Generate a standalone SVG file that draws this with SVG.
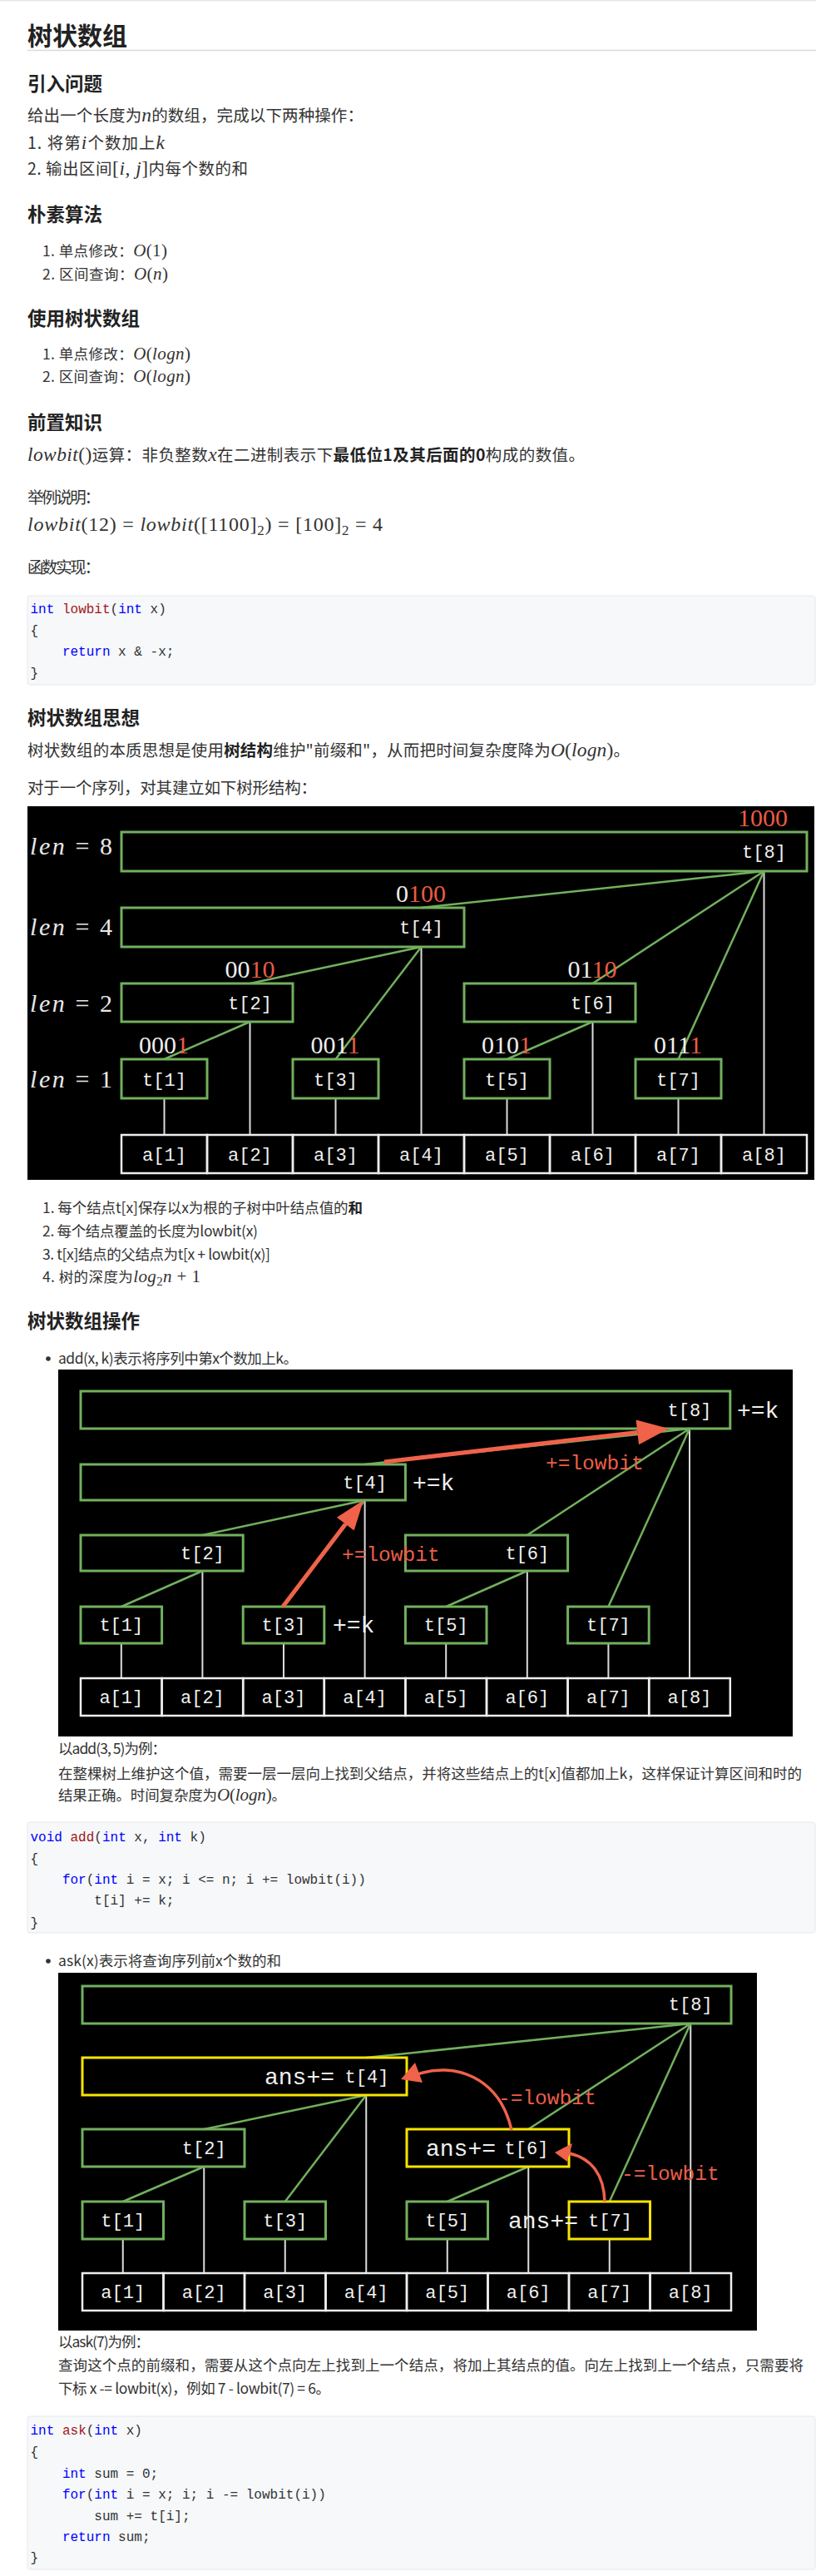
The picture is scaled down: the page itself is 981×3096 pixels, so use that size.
<svg xmlns="http://www.w3.org/2000/svg" width="981" height="3096" viewBox="0 0 981 3096">
<style>
text { font-family: "Noto Sans CJK SC", "Noto Sans", sans-serif; fill: #333; }
.h1 { font-size: 30px; font-weight: bold; fill: #222; }
.h3 { font-size: 22.5px; font-weight: bold; fill: #222; }
.p { font-size: 19.5px; }
.li { font-size: 17.5px; }
.m { font-family: "Liberation Serif", serif; font-style: italic; }
.mu { font-family: "Liberation Serif", serif; font-style: normal; }
.b { font-weight: bold; fill: #222; }
.code { font-family: "Liberation Mono", monospace; font-size: 16px; fill: #333; }
.kw { fill: #0000ff; }
.fn { fill: #a31515; }
.cb { fill: #f6f8fa; stroke: #e6e8eb; stroke-width: 1; }
.bg { fill: #000; }
.nb { fill: none; stroke: #72b05e; stroke-width: 3; }
.yb { fill: none; stroke: #f7e400; stroke-width: 3; }
.cell { fill: none; stroke: #eeeeee; stroke-width: 2.5; }
.gl { stroke: #72b05e; stroke-width: 2.5; fill: none; }
.wl { stroke: #dcdcdc; stroke-width: 2; }
.tt { font-family: "Liberation Mono", monospace; font-size: 22px; fill: #f0f0f0; text-anchor: middle; }
.tw { font-family: "Liberation Mono", monospace; font-size: 28px; fill: #f0f0f0; }
.red { fill: #ea5b43; }
.len { font-family: "Liberation Serif", serif; font-size: 30px; fill: #e8e8e8; }
.bin { font-family: "Liberation Serif", serif; font-size: 30px; fill: #eeeeee; text-anchor: middle; }
.rt { font-family: "Liberation Mono", monospace; font-size: 24.5px; fill: #ec5f48; }
.ra { stroke: #f0624a; stroke-width: 5; fill: none; }
.rc { stroke: #f0624a; stroke-width: 3.5; fill: none; }
.rh { fill: #f0624a; }
</style>

<rect x="0" y="0" width="981" height="1.5" fill="#e8e8e8"/>

<g id="text-top">
<text class="h1" x="33" y="54">树状数组</text>
<line x1="33" y1="60.5" x2="981" y2="60.5" stroke="#d9d9d9" stroke-width="1.5"/>
<text class="h3" x="33" y="108.5">引入问题</text>
<text class="p" x="33" y="146" textLength="404">给出一个长度为<tspan class="m" font-size="23.5">n</tspan>的数组，完成以下两种操作：</text>
<text class="p" x="33" y="179" textLength="165">1. 将第<tspan class="m" font-size="23.5">i</tspan>个数加上<tspan class="m" font-size="23.5">k</tspan></text>
<text class="p" x="33" y="210" textLength="265">2. 输出区间<tspan class="mu" font-size="23.5">[</tspan><tspan class="m" font-size="23.5">i</tspan><tspan class="mu" font-size="23.5">, </tspan><tspan class="m" font-size="23.5">j</tspan><tspan class="mu" font-size="23.5">]</tspan>内每个数的和</text>

<text class="h3" x="33" y="265.5">朴素算法</text>
<text class="li" x="51" y="308" textLength="150">1. 单点修改：<tspan class="m" font-size="21">O</tspan><tspan class="mu" font-size="21">(1)</tspan></text>
<text class="li" x="51" y="336" textLength="151">2. 区间查询：<tspan class="m" font-size="21">O</tspan><tspan class="mu" font-size="21">(</tspan><tspan class="m" font-size="21">n</tspan><tspan class="mu" font-size="21">)</tspan></text>

<text class="h3" x="33" y="390.5">使用树状数组</text>
<text class="li" x="51" y="432" textLength="178">1. 单点修改：<tspan class="m" font-size="21">O</tspan><tspan class="mu" font-size="21">(</tspan><tspan class="m" font-size="21">logn</tspan><tspan class="mu" font-size="21">)</tspan></text>
<text class="li" x="51" y="459" textLength="178">2. 区间查询：<tspan class="m" font-size="21">O</tspan><tspan class="mu" font-size="21">(</tspan><tspan class="m" font-size="21">logn</tspan><tspan class="mu" font-size="21">)</tspan></text>

<text class="h3" x="33" y="515.5">前置知识</text>
<text class="p" x="33" y="554" textLength="670"><tspan class="m" font-size="23.5">lowbit</tspan><tspan class="mu" font-size="23.5">()</tspan>运算：非负整数<tspan class="m" font-size="23.5">x</tspan>在二进制表示下<tspan class="b">最低位1及其后面的0</tspan>构成的数值。</text>
<text class="p" x="33" y="605" textLength="88">举例说明：</text>
<text x="33" y="638" textLength="427" style="font-family:'Liberation Serif',serif;font-size:24px;fill:#333"><tspan font-style="italic">lowbit</tspan>(12) = <tspan font-style="italic">lowbit</tspan>([1100]<tspan font-size="17" dy="5">2</tspan><tspan dy="-5">) = [100]</tspan><tspan font-size="17" dy="5">2</tspan><tspan dy="-5"> = 4</tspan></text>
<text class="p" x="33" y="689" textLength="88">函数实现：</text>
</g>

<g id="code-lowbit">
<rect class="cb" x="33" y="716" width="947" height="107" rx="3"/>
<text class="code" x="36.5" y="736.5" xml:space="preserve"><tspan class="kw">int</tspan> <tspan class="fn">lowbit</tspan>(<tspan class="kw">int</tspan> x)</text>
<text class="code" x="36.5" y="762.5" xml:space="preserve">{</text>
<text class="code" x="36.5" y="788" xml:space="preserve">    <tspan class="kw">return</tspan> x &amp; -x;</text>
<text class="code" x="36.5" y="813.5" xml:space="preserve">}</text>
</g>

<g id="text-idea">
<text class="h3" x="33" y="870.5">树状数组思想</text>
<text class="p" x="33" y="909" textLength="724">树状数组的本质思想是使用<tspan class="b">树结构</tspan>维护"前缀和"，从而把时间复杂度降为<tspan class="m" font-size="23.5">O</tspan><tspan class="mu" font-size="23.5">(</tspan><tspan class="m" font-size="23.5">logn</tspan><tspan class="mu" font-size="23.5">)</tspan>。</text>
<text class="p" x="33" y="954" textLength="348">对于一个序列，对其建立如下树形结构：</text>
</g>

<!-- ============ Diagram 1 ============ -->
<g id="diagram1">
<rect class="bg" x="33" y="969" width="946" height="449"/>
<g id="d1-levels">
<text class="len" x="36" y="1027" textLength="99"><tspan font-style="italic">len</tspan> = 8</text>
<text class="len" x="36" y="1124" textLength="99"><tspan font-style="italic">len</tspan> = 4</text>
<text class="len" x="36" y="1216" textLength="99"><tspan font-style="italic">len</tspan> = 2</text>
<text class="len" x="36" y="1307" textLength="99"><tspan font-style="italic">len</tspan> = 1</text>
</g>
<g id="d1-connectors">
<line class="wl" x1="197.5" y1="1320" x2="197.5" y2="1364"/>
<line class="wl" x1="300.5" y1="1228" x2="300.5" y2="1364"/>
<line class="wl" x1="403.5" y1="1320" x2="403.5" y2="1364"/>
<line class="wl" x1="506.5" y1="1138" x2="506.5" y2="1364"/>
<line class="wl" x1="609.5" y1="1320" x2="609.5" y2="1364"/>
<line class="wl" x1="712.5" y1="1228" x2="712.5" y2="1364"/>
<line class="wl" x1="815.5" y1="1320" x2="815.5" y2="1364"/>
<line class="wl" x1="918.5" y1="1047" x2="918.5" y2="1364"/>
<line class="gl" x1="197.5" y1="1273" x2="300.5" y2="1228"/>
<line class="gl" x1="300.5" y1="1182" x2="506.5" y2="1138"/>
<line class="gl" x1="403.5" y1="1273" x2="506.5" y2="1138"/>
<line class="gl" x1="506.5" y1="1091" x2="918.5" y2="1047"/>
<line class="gl" x1="609.5" y1="1273" x2="712.5" y2="1228"/>
<line class="gl" x1="712.5" y1="1182" x2="918.5" y2="1047"/>
<line class="gl" x1="815.5" y1="1273" x2="918.5" y2="1047"/>
</g>
<g id="d1-t8"><rect class="nb" x="146" y="1000" width="824" height="47"/><text class="tt" x="918.5" y="1031">t[8]</text><text class="bin" x="917" y="993"><tspan class="red">1000</tspan></text></g>
<g id="d1-t4"><rect class="nb" x="146" y="1091" width="412" height="47"/><text class="tt" x="506.5" y="1122">t[4]</text><text class="bin" x="506" y="1084">0<tspan class="red">100</tspan></text></g>
<g id="d1-t2"><rect class="nb" x="146" y="1182" width="206" height="46"/><text class="tt" x="300.5" y="1213">t[2]</text><text class="bin" x="300.5" y="1175">00<tspan class="red">10</tspan></text></g>
<g id="d1-t6"><rect class="nb" x="558" y="1182" width="206" height="46"/><text class="tt" x="712.5" y="1213">t[6]</text><text class="bin" x="712" y="1175">01<tspan class="red">10</tspan></text></g>
<g id="d1-t1"><rect class="nb" x="146" y="1273" width="103" height="47"/><text class="tt" x="197.5" y="1305">t[1]</text><text class="bin" x="197" y="1266">000<tspan class="red">1</tspan></text></g>
<g id="d1-t3"><rect class="nb" x="352" y="1273" width="103" height="47"/><text class="tt" x="403.5" y="1305">t[3]</text><text class="bin" x="403" y="1266">001<tspan class="red">1</tspan></text></g>
<g id="d1-t5"><rect class="nb" x="558" y="1273" width="103" height="47"/><text class="tt" x="609.5" y="1305">t[5]</text><text class="bin" x="609" y="1266">010<tspan class="red">1</tspan></text></g>
<g id="d1-t7"><rect class="nb" x="764" y="1273" width="103" height="47"/><text class="tt" x="815.5" y="1305">t[7]</text><text class="bin" x="815" y="1266">011<tspan class="red">1</tspan></text></g>
<g id="d1-a">
<rect class="cell" x="146" y="1364" width="103" height="46"/><text class="tt" x="197.5" y="1395">a[1]</text>
<rect class="cell" x="249" y="1364" width="103" height="46"/><text class="tt" x="300.5" y="1395">a[2]</text>
<rect class="cell" x="352" y="1364" width="103" height="46"/><text class="tt" x="403.5" y="1395">a[3]</text>
<rect class="cell" x="455" y="1364" width="103" height="46"/><text class="tt" x="506.5" y="1395">a[4]</text>
<rect class="cell" x="558" y="1364" width="103" height="46"/><text class="tt" x="609.5" y="1395">a[5]</text>
<rect class="cell" x="661" y="1364" width="103" height="46"/><text class="tt" x="712.5" y="1395">a[6]</text>
<rect class="cell" x="764" y="1364" width="103" height="46"/><text class="tt" x="815.5" y="1395">a[7]</text>
<rect class="cell" x="867" y="1364" width="103" height="46"/><text class="tt" x="918.5" y="1395">a[8]</text>
</g>
</g>

<g id="text-props">
<text class="li" x="51" y="1458" textLength="385">1. 每个结点t[x]保存以x为根的子树中叶结点值的<tspan class="b">和</tspan></text>
<text class="li" x="51" y="1486" textLength="259">2. 每个结点覆盖的长度为lowbit(x)</text>
<text class="li" x="51" y="1514" textLength="274">3. t[x]结点的父结点为t[x + lowbit(x)]</text>
<text class="li" x="51" y="1541" textLength="190">4. 树的深度为<tspan class="m" font-size="21">log</tspan><tspan class="mu" font-size="15" dy="4">2</tspan><tspan class="m" font-size="21" dy="-4">n</tspan><tspan class="mu" font-size="21"> + 1</tspan></text>
<text class="h3" x="33" y="1595.5">树状数组操作</text>
<circle cx="58" cy="1633" r="2.8" fill="#333"/>
<text class="li" x="70" y="1639" textLength="288">add(x, k)表示将序列中第x个数加上k。</text>
</g>

<!-- ============ Diagram 2 ============ -->
<g id="diagram2">
<rect class="bg" x="70" y="1646" width="883" height="441"/>
<g id="d2-connectors">
<line class="wl" x1="145.8" y1="1975" x2="145.8" y2="2017"/>
<line class="wl" x1="243.4" y1="1888" x2="243.4" y2="2017"/>
<line class="wl" x1="341" y1="1975" x2="341" y2="2017"/>
<line class="wl" x1="438.6" y1="1803" x2="438.6" y2="2017"/>
<line class="wl" x1="536.2" y1="1975" x2="536.2" y2="2017"/>
<line class="wl" x1="633.8" y1="1888" x2="633.8" y2="2017"/>
<line class="wl" x1="731.4" y1="1975" x2="731.4" y2="2017"/>
<line class="wl" x1="829" y1="1717" x2="829" y2="2017"/>
<line class="gl" x1="145.8" y1="1931" x2="243.4" y2="1888"/>
<line class="gl" x1="243.4" y1="1845" x2="438.6" y2="1803"/>
<line class="gl" x1="341" y1="1931" x2="438.6" y2="1803"/>
<line class="gl" x1="438.6" y1="1760" x2="829" y2="1717"/>
<line class="gl" x1="536.2" y1="1931" x2="633.8" y2="1888"/>
<line class="gl" x1="633.8" y1="1845" x2="829" y2="1717"/>
<line class="gl" x1="731.4" y1="1931" x2="829" y2="1717"/>
</g>
<g id="d2-t8"><rect class="nb" x="97" y="1672" width="780.8" height="45"/><text class="tt" x="829" y="1702">t[8]</text><text class="tw" x="886" y="1704">+=k</text></g>
<g id="d2-t4"><rect class="nb" x="97" y="1760" width="390.4" height="43"/><text class="tt" x="438.6" y="1789">t[4]</text><text class="tw" x="496" y="1791">+=k</text></g>
<g id="d2-t2"><rect class="nb" x="97" y="1845" width="195.2" height="43"/><text class="tt" x="243.4" y="1874">t[2]</text></g>
<g id="d2-t6"><rect class="nb" x="487.4" y="1845" width="195.2" height="43"/><text class="tt" x="633.8" y="1874">t[6]</text></g>
<g id="d2-t1"><rect class="nb" x="97" y="1931" width="97.6" height="44"/><text class="tt" x="145.8" y="1960">t[1]</text></g>
<g id="d2-t3"><rect class="nb" x="292.2" y="1931" width="97.6" height="44"/><text class="tt" x="341" y="1960">t[3]</text><text class="tw" x="400" y="1962">+=k</text></g>
<g id="d2-t5"><rect class="nb" x="487.4" y="1931" width="97.6" height="44"/><text class="tt" x="536.2" y="1960">t[5]</text></g>
<g id="d2-t7"><rect class="nb" x="682.6" y="1931" width="97.6" height="44"/><text class="tt" x="731.4" y="1960">t[7]</text></g>
<g id="d2-a">
<rect class="cell" x="97" y="2017" width="97.6" height="45"/><text class="tt" x="145.8" y="2047">a[1]</text>
<rect class="cell" x="194.6" y="2017" width="97.6" height="45"/><text class="tt" x="243.4" y="2047">a[2]</text>
<rect class="cell" x="292.2" y="2017" width="97.6" height="45"/><text class="tt" x="341" y="2047">a[3]</text>
<rect class="cell" x="389.8" y="2017" width="97.6" height="45"/><text class="tt" x="438.6" y="2047">a[4]</text>
<rect class="cell" x="487.4" y="2017" width="97.6" height="45"/><text class="tt" x="536.2" y="2047">a[5]</text>
<rect class="cell" x="585" y="2017" width="97.6" height="45"/><text class="tt" x="633.8" y="2047">a[6]</text>
<rect class="cell" x="682.6" y="2017" width="97.6" height="45"/><text class="tt" x="731.4" y="2047">a[7]</text>
<rect class="cell" x="780.2" y="2017" width="97.6" height="45"/><text class="tt" x="829" y="2047">a[8]</text>
</g>
<g id="d2-arrows">
<line class="ra" x1="340" y1="1931" x2="415.3" y2="1831.7"/>
<polygon class="rh" points="437,1803 425.7,1839.6 404.9,1823.8"/>
<line class="ra" x1="462" y1="1757" x2="766.3" y2="1721.4"/>
<polygon class="rh" points="804,1717 768,1736.3 764.6,1706.5"/>
<text class="rt" x="656" y="1766">+=lowbit</text>
<text class="rt" x="411" y="1876">+=lowbit</text>
</g>
</g>

<g id="text-add">
<text class="li" x="70" y="2108" textLength="130">以add(3, 5)为例：</text>
<text class="li" x="70" y="2138" textLength="894">在整棵树上维护这个值，需要一层一层向上找到父结点，并将这些结点上的t[x]值都加上k，这样保证计算区间和时的</text>
<text class="li" x="70" y="2164" textLength="274">结果正确。时间复杂度为<tspan class="m" font-size="21">O</tspan><tspan class="mu" font-size="21">(</tspan><tspan class="m" font-size="21">logn</tspan><tspan class="mu" font-size="21">)</tspan>。</text>
</g>

<g id="code-add">
<rect class="cb" x="33" y="2190" width="947" height="133" rx="3"/>
<text class="code" x="36.5" y="2212.5" xml:space="preserve"><tspan class="kw">void</tspan> <tspan class="fn">add</tspan>(<tspan class="kw">int</tspan> x, <tspan class="kw">int</tspan> k)</text>
<text class="code" x="36.5" y="2239" xml:space="preserve">{</text>
<text class="code" x="36.5" y="2264" xml:space="preserve">    <tspan class="kw">for</tspan>(<tspan class="kw">int</tspan> i = x; i &lt;= n; i += lowbit(i))</text>
<text class="code" x="36.5" y="2289" xml:space="preserve">        t[i] += k;</text>
<text class="code" x="36.5" y="2315.5" xml:space="preserve">}</text>
</g>

<g id="text-ask">
<circle cx="58" cy="2357" r="2.8" fill="#333"/>
<text class="li" x="70" y="2363" textLength="268">ask(x)表示将查询序列前x个数的和</text>
</g>

<!-- ============ Diagram 3 ============ -->
<g id="diagram3">
<rect class="bg" x="70" y="2371" width="840" height="430"/>
<g id="d3-connectors">
<line class="wl" x1="147.75" y1="2691" x2="147.75" y2="2732"/>
<line class="wl" x1="245.25" y1="2604" x2="245.25" y2="2732"/>
<line class="wl" x1="342.75" y1="2691" x2="342.75" y2="2732"/>
<line class="wl" x1="440.25" y1="2518" x2="440.25" y2="2732"/>
<line class="wl" x1="537.75" y1="2691" x2="537.75" y2="2732"/>
<line class="wl" x1="635.25" y1="2604" x2="635.25" y2="2732"/>
<line class="wl" x1="732.75" y1="2691" x2="732.75" y2="2732"/>
<line class="wl" x1="830.25" y1="2432" x2="830.25" y2="2732"/>
<line class="gl" x1="147.75" y1="2646" x2="245.25" y2="2604"/>
<line class="gl" x1="245.25" y1="2559" x2="440.25" y2="2518"/>
<line class="gl" x1="342.75" y1="2646" x2="440.25" y2="2518"/>
<line class="gl" x1="440.25" y1="2473" x2="830.25" y2="2432"/>
<line class="gl" x1="537.75" y1="2646" x2="635.25" y2="2604"/>
<line class="gl" x1="635.25" y1="2559" x2="830.25" y2="2432"/>
<line class="gl" x1="732.75" y1="2646" x2="830.25" y2="2432"/>
</g>
<g id="d3-t8"><rect class="nb" x="99" y="2387" width="780" height="45"/><text class="tt" x="830.25" y="2416">t[8]</text></g>
<g id="d3-t4"><rect class="yb" x="99" y="2473" width="390" height="45"/><text class="tw" x="318" y="2505">ans+=</text><text class="tt" x="441" y="2503">t[4]</text></g>
<g id="d3-t2"><rect class="nb" x="99" y="2559" width="195" height="45"/><text class="tt" x="245.25" y="2589">t[2]</text></g>
<g id="d3-t6"><rect class="yb" x="489" y="2559" width="195" height="45"/><text class="tw" x="512" y="2591">ans+=</text><text class="tt" x="633" y="2589">t[6]</text></g>
<g id="d3-t1"><rect class="nb" x="99" y="2646" width="97.5" height="45"/><text class="tt" x="147.75" y="2676">t[1]</text></g>
<g id="d3-t3"><rect class="nb" x="294" y="2646" width="97.5" height="45"/><text class="tt" x="342.75" y="2676">t[3]</text></g>
<g id="d3-t5"><rect class="nb" x="489" y="2646" width="97.5" height="45"/><text class="tt" x="537.75" y="2676">t[5]</text></g>
<g id="d3-t7"><rect class="yb" x="684" y="2646" width="97.5" height="45"/><text class="tw" x="611" y="2678">ans+=</text><text class="tt" x="733.5" y="2676">t[7]</text></g>
<g id="d3-a">
<rect class="cell" x="99" y="2732" width="97.5" height="45"/><text class="tt" x="147.75" y="2762">a[1]</text>
<rect class="cell" x="196.5" y="2732" width="97.5" height="45"/><text class="tt" x="245.25" y="2762">a[2]</text>
<rect class="cell" x="294" y="2732" width="97.5" height="45"/><text class="tt" x="342.75" y="2762">a[3]</text>
<rect class="cell" x="391.5" y="2732" width="97.5" height="45"/><text class="tt" x="440.25" y="2762">a[4]</text>
<rect class="cell" x="489" y="2732" width="97.5" height="45"/><text class="tt" x="537.75" y="2762">a[5]</text>
<rect class="cell" x="586.5" y="2732" width="97.5" height="45"/><text class="tt" x="635.25" y="2762">a[6]</text>
<rect class="cell" x="684" y="2732" width="97.5" height="45"/><text class="tt" x="732.75" y="2762">a[7]</text>
<rect class="cell" x="781.5" y="2732" width="97.5" height="45"/><text class="tt" x="830.25" y="2762">a[8]</text>
</g>
<g id="d3-arrows">
<path class="rc" d="M615 2560 C600 2495 545 2478 502 2493"/>
<polygon class="rh" points="482,2499 499,2479 508,2503"/>
<path class="rc" d="M727 2646 C726 2615 712 2594 684 2588"/>
<polygon class="rh" points="667,2587 688,2576 682,2598"/>
<text class="rt" x="599" y="2529">-=lowbit</text>
<text class="rt" x="747" y="2620">-=lowbit</text>
</g>
</g>

<g id="text-ask2">
<text class="li" x="70" y="2821" textLength="110">以ask(7)为例：</text>
<text class="li" x="70" y="2849" textLength="896">查询这个点的前缀和，需要从这个点向左上找到上一个结点，将加上其结点的值。向左上找到上一个结点，只需要将</text>
<text class="li" x="70" y="2877" textLength="327">下标 x -= lowbit(x)，例如 7 - lowbit(7) = 6。</text>
</g>

<g id="code-ask">
<rect class="cb" x="33" y="2904" width="947" height="184" rx="3"/>
<text class="code" x="36.5" y="2925.5" xml:space="preserve"><tspan class="kw">int</tspan> <tspan class="fn">ask</tspan>(<tspan class="kw">int</tspan> x)</text>
<text class="code" x="36.5" y="2952" xml:space="preserve">{</text>
<text class="code" x="36.5" y="2977.5" xml:space="preserve">    <tspan class="kw">int</tspan> sum = 0;</text>
<text class="code" x="36.5" y="3002.5" xml:space="preserve">    <tspan class="kw">for</tspan>(<tspan class="kw">int</tspan> i = x; i; i -= lowbit(i))</text>
<text class="code" x="36.5" y="3028.5" xml:space="preserve">        sum += t[i];</text>
<text class="code" x="36.5" y="3053.5" xml:space="preserve">    <tspan class="kw">return</tspan> sum;</text>
<text class="code" x="36.5" y="3078.5" xml:space="preserve">}</text>
</g>
</svg>
